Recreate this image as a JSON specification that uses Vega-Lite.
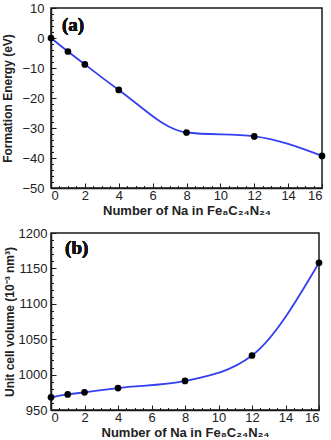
{
  "$schema": "https://vega.github.io/schema/vega-lite/v6.json",
  "padding": {"left": 1, "top": 1, "right": 0, "bottom": 0},
  "background": "white",
  "spacing": 8,
  "columns": 1,
  "align": "none",
  "config": {
    "font": "Liberation Sans",
    "view": {"stroke": "#1a1a1a", "strokeWidth": 1.5},
    "axis": {
      "domainColor": "#1a1a1a",
      "domainWidth": 1.5,
      "tickColor": "#1a1a1a",
      "grid": false,
      "labelFont": "Liberation Sans",
      "labelFontSize": 13,
      "labelColor": "#222",
      "titleFont": "Liberation Sans",
      "titleFontSize": 12,
      "titleFontWeight": "bold",
      "titleColor": "#222"
    }
  },
  "datasets": {
    "energy": [
      {"na": 0, "value": 0},
      {"na": 1, "value": -4.5},
      {"na": 2, "value": -8.8},
      {"na": 4, "value": -17.3},
      {"na": 8, "value": -31.5},
      {"na": 12, "value": -32.8},
      {"na": 16, "value": -39.3}
    ],
    "volume": [
      {"na": 0, "value": 968},
      {"na": 1, "value": 972},
      {"na": 2, "value": 975},
      {"na": 4, "value": 981},
      {"na": 8, "value": 991},
      {"na": 12, "value": 1027},
      {"na": 16, "value": 1158}
    ]
  },
  "concat": [
    {
      "width": 271,
      "height": 180,
      "data": {"name": "energy"},
      "resolve": {"axis": {"x": "independent", "y": "independent"}},
      "layer": [
        {
          "mark": {"type": "line", "interpolate": "monotone", "color": "#3340f0", "strokeWidth": 1.8},
          "encoding": {
            "x": {"field": "na", "type": "quantitative", "scale": {"domain": [0, 16], "nice": false},
              "axis": {"title": "Number of Na in Fe₈C₂₄N₂₄", "titleFontSize": 13, "values": [0,2,4,6,8,10,12,14,16], "tickSize": -5, "labelPadding": 6, "titlePadding": 2}},
            "y": {"field": "value", "type": "quantitative", "scale": {"domain": [-50, 10], "nice": false},
              "axis": {"title": "Formation Energy (eV)", "values": [-50,-40,-30,-20,-10,0,10], "tickSize": -5, "labelPadding": 12, "titlePadding": 7}}
          }
        },
        {
          "mark": {"type": "point", "filled": true, "color": "black", "size": 45, "opacity": 1},
          "encoding": {
            "x": {"field": "na", "type": "quantitative",
              "axis": {"orient": "bottom", "title": null, "labels": false, "domain": false, "tickSize": -2.5, "values": [0.5,1,1.5,2.5,3,3.5,4.5,5,5.5,6.5,7,7.5,8.5,9,9.5,10.5,11,11.5,12.5,13,13.5,14.5,15,15.5]}},
            "y": {"field": "value", "type": "quantitative",
              "axis": {"orient": "left", "title": null, "labels": false, "domain": false, "tickSize": -2.5, "values": [-48,-46,-44,-42,-38,-36,-34,-32,-28,-26,-24,-22,-18,-16,-14,-12,-8,-6,-4,-2,2,4,6,8]}}
          }
        },
        {
          "mark": {"type": "text", "text": "(a)", "font": "Liberation Serif", "fontWeight": "bold", "fontSize": 19, "align": "left", "baseline": "middle", "color": "#111"},
          "encoding": {
            "x": {"datum": 0.65, "type": "quantitative", "axis": null},
            "y": {"datum": 4.5, "type": "quantitative", "axis": null}
          }
        }
      ]
    },
    {
      "width": 268,
      "height": 177,
      "data": {"name": "volume"},
      "resolve": {"axis": {"x": "independent", "y": "independent"}},
      "layer": [
        {
          "mark": {"type": "line", "interpolate": "monotone", "color": "#3340f0", "strokeWidth": 1.8},
          "encoding": {
            "x": {"field": "na", "type": "quantitative", "scale": {"domain": [0, 16], "nice": false},
              "axis": {"title": "Number of Na in Fe₈C₂₄N₂₄", "titleFontSize": 13, "values": [0,2,4,6,8,10,12,14,16], "tickSize": -5, "labelPadding": 6, "titlePadding": 2}},
            "y": {"field": "value", "type": "quantitative", "scale": {"domain": [950, 1200], "nice": false, "zero": false},
              "axis": {"title": "Unit cell volume (10⁻³ nm³)", "format": "d", "values": [950,1000,1050,1100,1150,1200], "tickSize": -5, "labelPadding": 9, "titlePadding": 2}}
          }
        },
        {
          "mark": {"type": "point", "filled": true, "color": "black", "size": 45, "opacity": 1},
          "encoding": {
            "x": {"field": "na", "type": "quantitative",
              "axis": {"orient": "bottom", "title": null, "labels": false, "domain": false, "tickSize": -2.5, "values": [0.5,1,1.5,2.5,3,3.5,4.5,5,5.5,6.5,7,7.5,8.5,9,9.5,10.5,11,11.5,12.5,13,13.5,14.5,15,15.5]}},
            "y": {"field": "value", "type": "quantitative", "scale": {"zero": false},
              "axis": {"orient": "left", "title": null, "labels": false, "domain": false, "tickSize": -2.5, "values": [960,970,980,990,1010,1020,1030,1040,1060,1070,1080,1090,1110,1120,1130,1140,1160,1170,1180,1190]}}
          }
        },
        {
          "mark": {"type": "text", "text": "(b)", "font": "Liberation Serif", "fontWeight": "bold", "fontSize": 19, "align": "left", "baseline": "middle", "color": "#111"},
          "encoding": {
            "x": {"datum": 0.84, "type": "quantitative", "axis": null},
            "y": {"datum": 1179, "type": "quantitative", "axis": null}
          }
        }
      ]
    }
  ]
}
